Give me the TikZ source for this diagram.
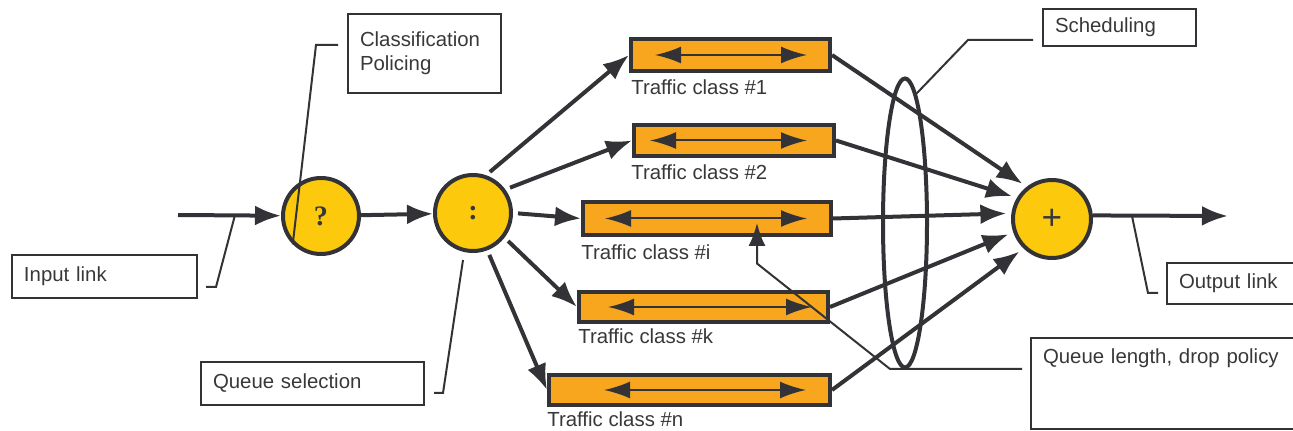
\documentclass[tikz,border=0pt]{standalone}
\usepackage{fontspec}
\setmainfont{Liberation Sans}
\newfontfamily\opfont{Liberation Serif}
\usetikzlibrary{arrows.meta,shapes.geometric}
\definecolor{ink}{HTML}{333337}
\definecolor{txt}{HTML}{38383A}
\definecolor{opyellow}{HTML}{FCC90C}
\definecolor{qorange}{HTML}{F7A61E}
\tikzset{>={Latex[length=5.2mm,width=4mm]}}

\begin{document}
\begin{tikzpicture}[
    x=0.2mm, y=-0.2mm,
    every node/.style={font=\fontsize{11.6pt}{13.7pt}\selectfont, text=txt},
    op/.style={draw=ink, line width=0.8mm, circle, fill=opyellow, minimum size=15.2mm, inner sep=0pt},
    queue/.style={draw=ink, line width=0.8mm, fill=qorange, rectangle, inner sep=0pt},
    qlabel/.style={anchor=base west, inner sep=0pt},
    link/.style={draw=ink, line width=0.8mm, ->},
    fifo/.style={draw=ink, line width=0.4mm, {Latex[length=5.2mm,width=3.4mm]}-{Latex[length=5.2mm,width=3.4mm]}},
    callout/.style={draw=ink, line width=0.4mm, anchor=north west, inner xsep=2.4mm, inner ysep=0pt, align=left},
    leader/.style={draw=ink, line width=0.4mm}
]
    \useasboundingbox (0,0) rectangle (1293,431);
    \clip (0,0) rectangle (1293,431);

    % Nodes
    \node[op] (cls) at (321,216) {\opfont\bfseries\fontsize{16pt}{16pt}\selectfont ?};
    \node[op] (sel) at (473,213) {\opfont\bfseries\fontsize{16pt}{16pt}\selectfont\raisebox{-0.9mm}{:}};
    \node[op, minimum size=15.6mm] (sum) at (1052,219) {\fontsize{20pt}{20pt}\selectfont\raisebox{-1.1mm}{+}};

    \node[queue, minimum width=39.8mm, minimum height=6.4mm] (q1) at (730.5,55) {};
    \node[queue, minimum width=40mm, minimum height=6.2mm] (q2) at (734,140.5) {};
    \node[queue, minimum width=49.6mm, minimum height=6.6mm] (qi) at (707,218.5) {};
    \node[queue, minimum width=49.8mm, minimum height=6mm] (qk) at (703.5,307) {};
    \node[queue, minimum width=56.2mm, minimum height=6mm] (qn) at (689.5,390) {};

    \node[qlabel] (l1) at ([shift={(2,22)}]q1.south west) {Traffic class \#1};
    \node[qlabel] (l2) at ([shift={(-1,22)}]q2.south west) {Traffic class \#2};
    \node[qlabel] (li) at ([shift={(0,23)}]qi.south west) {Traffic class \#i};
    \node[qlabel] (lk) at ([shift={(1,20)}]qk.south west) {Traffic class \#k};
    \node[qlabel] (ln) at ([shift={(0,20)}]qn.south west) {Traffic class \#n};

    \node[draw=ink, line width=0.8mm, ellipse, minimum width=8.8mm, minimum height=57.8mm, inner sep=0pt] (ring) at (905,223) {};

    \node[callout, text width=25.8mm, minimum height=15.8mm] (clsbox) at (347,13) {Classification\\Policing};
    \node[callout, text width=32.2mm, minimum height=8.6mm] (inbox) at (11,254) {Input link};
    \node[callout, text width=39.8mm, minimum height=8.6mm] (selbox) at (200,361) {Queue selection};
    \node[callout, text width=25.8mm, minimum height=7.4mm] (schedbox) at (1042,8) {Scheduling};
    \node[callout, text width=27.2mm, minimum height=8.2mm] (outbox) at (1166,262) {Output link};
    \node[callout, text width=55.2mm, text height=5.2mm, text depth=13mm] (qlbox) at (1030,337) {Queue length, drop policy};

    \coordinate (inl) at (178,215);
    \coordinate (outr) at (1228,216);
    \coordinate (intap) at (235,215);
    \coordinate (seltap) at (463,260);
    \coordinate (outtap) at (1132,216);

    % Queue buffers
    \draw[fifo] ([xshift=5.2mm]q1.west) -- ([xshift=-5mm]q1.east);
    \draw[fifo] ([xshift=3.6mm]q2.west) -- ([xshift=-5.8mm]q2.east);
    \draw[fifo] ([xshift=4.8mm]qi.west) -- ([xshift=-5.2mm]qi.east);
    \draw[fifo] ([xshift=6.2mm]qk.west) -- ([xshift=-3.6mm]qk.east);
    \draw[fifo] ([xshift=11.4mm]qn.west) -- ([xshift=-5.2mm]qn.east);

    % Arrows
    \draw[link] (inl) -- (cls);
    \draw[link] (cls) -- (sel);
    \draw[link, shorten <=1mm] (sel.71) -- (q1.west);
    \draw[link, shorten <=1mm] (sel.36) -- (q2.west);
    \draw[link, shorten <=1mm] (sel.0) -- (qi.west);
    \draw[link, shorten <=1mm] (sel.-38) -- (qk.west);
    \draw[link, shorten <=1mm] (sel.-69) -- (qn.west);
    \draw[link, shorten >=1mm] (q1.east) -- (sum.128);
    \draw[link, shorten >=1mm] (q2.east) -- (sum.149);
    \draw[link, shorten >=1mm] (qi.east) -- (sum.172);
    \draw[link, shorten >=1mm] (qk.east) -- (sum.199);
    \draw[link, shorten >=1mm] (qn.east) -- (sum.226);
    \draw[link] (sum.5) -- (outr);

    % Callout leaders
    \draw[leader] ([shift={(-9,-8.5)}]clsbox.west) -- ++(-22,0) -- (cls.225);
    \draw[leader] ([shift={(8,10.5)}]inbox.east) -- ++(10,0) -- (intap);
    \draw[leader] ([shift={(9,9.5)}]selbox.east) -- ++(9,0) -- (seltap);
    \draw[leader] ([shift={(-9,12.5)}]schedbox.west) -- ++(-65,0) -- (ring.85);
    \draw[leader] ([shift={(-8,9.5)}]outbox.west) -- ++(-10,0) -- (outtap);
    \draw[leader, -{Latex[length=4.6mm,width=3.4mm]}] ([shift={(-8,-14.5)}]qlbox.west) -- ++(-132,0)
        -- ([shift={(50,45)}]qi.center) -- ([shift={(50,4.5)}]qi.center);
\end{tikzpicture}
\end{document}
